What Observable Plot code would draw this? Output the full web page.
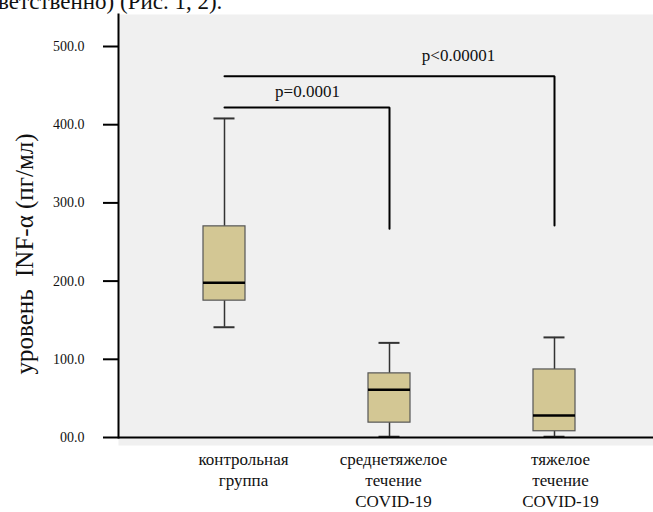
<!DOCTYPE html>
<html>
<head>
<meta charset="utf-8">
<script src="https://cdn.jsdelivr.net/npm/d3@7"></script>
<script src="https://cdn.jsdelivr.net/npm/@observablehq/plot@0.6"></script>
<style>
  html, body { margin: 0; padding: 0; background: #fff; }
  #wrap { position: relative; width: 653px; height: 512px; overflow: hidden; }
  #wrap svg text { font-family: "Liberation Serif", "Times New Roman", serif !important; }
  #frag { position: absolute; left: -2px; top: -10px; font-family: "Liberation Serif", serif; font-size: 23px; line-height: 24px; color: #111; white-space: nowrap; z-index: 2; }
</style>
</head>
<body>
<div id="wrap"><div id="frag">ветственно) (Рис. 1, 2).</div></div>
<script>
// Categories (x axis labels)
const categories = [
  "контрольная\nгруппа",
  "среднетяжелое\nтечение\nCOVID-19",
  "тяжелое\nтечение\nCOVID-19"
];
// Box-plot summary values (пг/мл)
const whiskerLow  = [141, 1, 1];
const quartile1   = [175, 19, 8];
const medians     = [198, 61, 28];
const quartile3   = [270, 82, 87];
const whiskerHigh = [408, 121, 128];

// Y axis ticks and labels
const yTicks = [0, 100, 200, 300, 400, 500];
const yTickLabels = ["00.0", "100.0", "200.0", "300.0", "400.0", "500.0"];

// Significance brackets
const bracketFrom   = [0, 0];
const bracketTo     = [1, 2];
const bracketTop    = [422, 462];
const bracketBottom = [267, 271];
const bracketLabels = ["p=0.0001", "p<0.00001"];

const rows = categories.map((c, i) => ({
  cat: c, lo: whiskerLow[i], q1: quartile1[i], med: medians[i], q3: quartile3[i], hi: whiskerHigh[i]
}));

const bracketPts = [];
bracketLabels.forEach((lab, i) => {
  bracketPts.push({id: i, x: categories[bracketFrom[i]], y: bracketTop[i]});
  bracketPts.push({id: i, x: categories[bracketTo[i]], y: bracketTop[i]});
  bracketPts.push({id: i, x: categories[bracketTo[i]], y: bracketBottom[i]});
});

const boxFill = "#d3c794";
const labelNudge = [19, 4, 6]; // horizontal nudge of each category label (px)

const chart = Plot.plot({
  width: 653,
  height: 512,
  marginLeft: 118,
  marginRight: 0,
  marginTop: 14,
  marginBottom: 67,
  style: {fontFamily: "Liberation Serif, Times New Roman, serif", background: "transparent", color: "#111"},
  x: {type: "band", domain: categories, paddingInner: 0.746, paddingOuter: 0.373, insetLeft: 22, insetRight: 16},
  y: {domain: [0, 500], insetTop: 32, insetBottom: 8},
  marks: [
    Plot.frame({fill: "#f0f0f0", stroke: "none"}),
    Plot.ruleX(rows, {x: "cat", y1: "lo", y2: "q1", stroke: "#333", strokeWidth: 1.5}),
    Plot.ruleX(rows, {x: "cat", y1: "q3", y2: "hi", stroke: "#333", strokeWidth: 1.5}),
    Plot.tickY(rows, {x: "cat", y: "lo", stroke: "#333", strokeWidth: 2, insetLeft: 10.5, insetRight: 10.5}),
    Plot.tickY(rows, {x: "cat", y: "hi", stroke: "#333", strokeWidth: 2, insetLeft: 10.5, insetRight: 10.5}),
    Plot.barY(rows, {x: "cat", y1: "q1", y2: "q3", fill: boxFill, stroke: "#555", strokeWidth: 1.2}),
    Plot.tickY(rows, {x: "cat", y: "med", stroke: "#000", strokeWidth: 2.5}),
    Plot.line(bracketPts, {x: "x", y: "y", z: "id", stroke: "#000", strokeWidth: 2, strokeLinejoin: "miter"}),
    Plot.text([bracketLabels[0]], {x: () => categories[bracketFrom[0]], y: () => bracketTop[0], text: d => d, dx: 83, dy: -16, fontSize: 17, fill: "#111"}),
    Plot.text([bracketLabels[1]], {x: () => categories[bracketFrom[1]], y: () => bracketTop[1], text: d => d, dx: 234, dy: -21, fontSize: 17, fill: "#111"}),
    Plot.frame({anchor: "left", stroke: "#000", strokeWidth: 2, insetBottom: 8}),
    Plot.ruleY([0], {stroke: "#000", strokeWidth: 2}),
    Plot.axisY({ticks: yTicks, tickFormat: d => yTickLabels[yTicks.indexOf(d)], tickSize: 15, tickPadding: 19, fontSize: 14, stroke: "#000", strokeWidth: 2, label: null}),
    Plot.text(["уровень  INF-α (пг/мл)"], {frameAnchor: "left", rotate: -90, dx: -94, dy: 24, fontSize: 25, fill: "#111", textAnchor: "middle", lineAnchor: "middle"}),
    ...categories.map((c, i) =>
      Plot.axisX([c], {tickSize: 0, tickPadding: 4, fontSize: 17, lineHeight: 1.25, label: null, dx: labelNudge[i], fill: "#111"})
    )
  ]
});
document.getElementById("wrap").appendChild(chart);
</script>
</body>
</html>
